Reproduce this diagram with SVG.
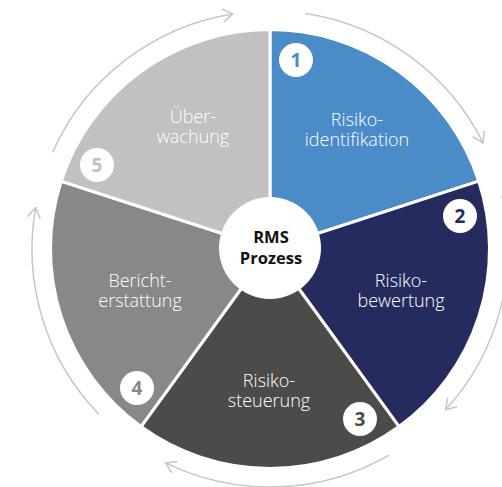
<svg xmlns="http://www.w3.org/2000/svg" width="502" height="487" viewBox="0 0 502 487">
<style>
.seg{stroke:#fff;stroke-width:3;stroke-linejoin:miter}
.lbl{font-family:"Open Sans","Liberation Sans",sans-serif;font-weight:300;font-size:18px;fill:#fff;text-anchor:middle}
.num{font-family:"Open Sans","Liberation Sans",sans-serif;font-weight:700;font-size:19px;text-anchor:middle}
.badge{fill:#fff}
.arr{fill:none;stroke:#c6c6c6;stroke-width:1.5}
.ctr{font-family:"Open Sans","Liberation Sans",sans-serif;font-weight:700;font-size:16.5px;fill:#111;text-anchor:middle}
</style>
<defs>
<marker id="ah" markerUnits="userSpaceOnUse" markerWidth="24" markerHeight="24" refX="0" refY="0" viewBox="-12 -12 24 24" orient="auto" overflow="visible">
<path d="M-10,-6.5 L0,0 L-10,6.5" fill="none" stroke="#c6c6c6" stroke-width="1.5"/>
</marker>
</defs>
<g id="connectors">
<path class="arr" d="M305.18,13.61 A238,238 0 0 1 483.0,142.8" marker-end="url(#ah)"/>
<path class="arr" d="M501.9,195.4 A238,238 0 0 1 445.5,409.8" marker-end="url(#ah)"/>
<path class="arr" d="M389,455.1 A238,238 0 0 1 165.7,462.9" marker-end="url(#ah)"/>
<path class="arr" d="M98.8,414.3 A238,238 0 0 1 35.6,207.7" marker-end="url(#ah)"/>
<path class="arr" d="M52.6,152.2 A238,238 0 0 1 232.8,13.9" marker-end="url(#ah)"/>
</g>
<g id="node1">
<path class="seg" fill="#4b8bc8" d="M270,249 L270,29.5 A219.5,219.5 0 0 1 478.76,181.17 Z"/>
<text class="lbl" x="357" y="126">Risiko-</text>
<text class="lbl" x="357" y="146">identifikation</text>
<circle class="badge" cx="296" cy="60" r="17"/>
<text class="num" x="296" y="67" fill="#4b8bc8">1</text>
</g>
<g id="node2">
<path class="seg" fill="#262b5f" d="M270,249 L478.76,181.17 A219.5,219.5 0 0 1 399.02,426.58 Z"/>
<text class="lbl" x="401" y="287">Risiko-</text>
<text class="lbl" x="401" y="307">bewertung</text>
<circle class="badge" cx="460" cy="216" r="17"/>
<text class="num" x="460" y="223" fill="#262b5f">2</text>
</g>
<g id="node3">
<path class="seg" fill="#4b4b4a" d="M270,249 L399.02,426.58 A219.5,219.5 0 0 1 140.98,426.58 Z"/>
<text class="lbl" x="269" y="387">Risiko-</text>
<text class="lbl" x="269" y="407">steuerung</text>
<circle class="badge" cx="360" cy="419" r="17"/>
<text class="num" x="360" y="426" fill="#4b4b4a">3</text>
</g>
<g id="node4">
<path class="seg" fill="#888888" d="M270,249 L140.98,426.58 A219.5,219.5 0 0 1 61.24,181.17 Z"/>
<text class="lbl" x="140" y="287">Bericht-</text>
<text class="lbl" x="140" y="307">erstattung</text>
<circle class="badge" cx="137" cy="388" r="17"/>
<text class="num" x="137" y="395" fill="#888888">4</text>
</g>
<g id="node5">
<path class="seg" fill="#c1c1c1" d="M270,249 L61.24,181.17 A219.5,219.5 0 0 1 270,29.5 Z"/>
<text class="lbl" x="193" y="123">Über-</text>
<text class="lbl" x="193" y="143">wachung</text>
<circle class="badge" cx="97" cy="165" r="17"/>
<text class="num" x="97" y="172" fill="#c1c1c1">5</text>
</g>
<g id="center">
<circle cx="270" cy="248" r="51" fill="#fff"/>
<text class="ctr" x="271" y="243">RMS</text>
<text class="ctr" x="271" y="264">Prozess</text>
</g>
</svg>
